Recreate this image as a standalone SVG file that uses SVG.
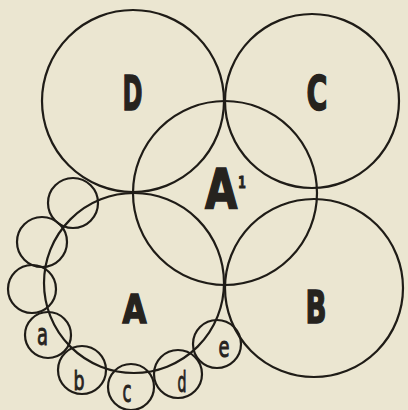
<svg xmlns="http://www.w3.org/2000/svg" width="408" height="410" viewBox="0 0 408 410">
<style>
.bg{fill:#ebe6d1}
.c{fill:none;stroke:#1f1c17;stroke-width:2.2}
.big{font-family:"DejaVu Sans",sans-serif;font-weight:bold;fill:#26231e;stroke:#26231e;stroke-width:1.6;text-anchor:middle}
.sm{font-family:"DejaVu Sans Condensed","DejaVu Sans",sans-serif;fill:#26231e;stroke:#26231e;stroke-width:0.9;text-anchor:middle}
</style>
<rect class="bg" x="0" y="0" width="408" height="410"/>
<g id="circles">
<g id="D"><circle class="c" cx="133" cy="101" r="91"/><text class="big" x="132.5" y="110" font-size="48" textLength="20" lengthAdjust="spacingAndGlyphs">D</text></g>
<g id="C"><circle class="c" cx="312" cy="101" r="87"/><text class="big" x="317" y="110" font-size="48" textLength="21" lengthAdjust="spacingAndGlyphs">C</text></g>
<g id="A1"><circle class="c" cx="225" cy="193" r="92"/><text class="big" transform="translate(205,208) scale(0.76,1)" x="0" y="0" font-size="55" style="text-anchor:start">A<tspan font-size="15" dy="-20" dx="1" stroke-width="0.8">1</tspan></text></g>
<g id="A"><circle class="c" cx="134" cy="283" r="90"/><text class="big" x="134.5" y="323" font-size="39" textLength="24" lengthAdjust="spacingAndGlyphs">A</text></g>
<g id="B"><circle class="c" cx="314" cy="288" r="89"/><text class="big" x="316" y="323" font-size="45" textLength="21" lengthAdjust="spacingAndGlyphs">B</text></g>
<g id="s1"><circle class="c" cx="73" cy="203" r="25"/></g>
<g id="s2"><circle class="c" cx="42" cy="242" r="25"/></g>
<g id="s3"><circle class="c" cx="32" cy="289" r="24"/></g>
<g id="a"><circle class="c" cx="48" cy="335" r="23"/><text class="sm" x="42.5" y="345" font-size="30" textLength="11" lengthAdjust="spacingAndGlyphs">a</text></g>
<g id="b"><circle class="c" cx="82" cy="370" r="24"/><text class="sm" x="79" y="390" font-size="27" textLength="11" lengthAdjust="spacingAndGlyphs">b</text></g>
<g id="c"><circle class="c" cx="131" cy="387" r="23"/><text class="sm" x="127" y="402" font-size="30" textLength="9" lengthAdjust="spacingAndGlyphs">c</text></g>
<g id="d"><circle class="c" cx="178" cy="374" r="24"/><text class="sm" x="182" y="392" font-size="28" textLength="9" lengthAdjust="spacingAndGlyphs">d</text></g>
<g id="e"><circle class="c" cx="217" cy="344" r="24"/><text class="sm" x="224" y="357" font-size="28" textLength="11" lengthAdjust="spacingAndGlyphs">e</text></g>
</g>
<g id="connectors"></g>
</svg>
